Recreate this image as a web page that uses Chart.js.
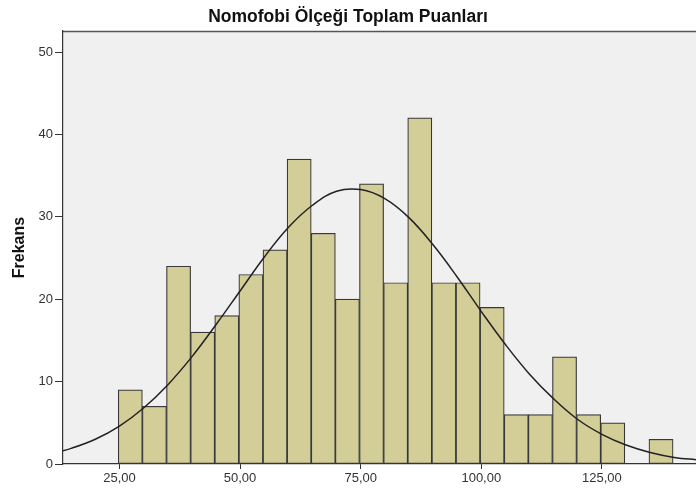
<!DOCTYPE html>
<html>
<head>
<meta charset="utf-8">
<script src="https://cdn.jsdelivr.net/npm/chart.js@4/dist/chart.umd.min.js"></script>
<style>
  html, body { margin: 0; padding: 0; background: #fff; }
  #wrap { width: 696px; height: 490px; }
</style>
</head>
<body>
<div id="wrap"><canvas id="hist"></canvas></div>
<script>
// histogram bins (centre of each 5-point bin) and counts
const binCenters = [27.25, 32.25, 37.25, 42.25, 47.25, 52.25, 57.25, 62.25, 67.25, 72.25, 77.25, 82.25,
  87.25, 92.25, 97.25, 102.25, 107.25, 112.25, 117.25, 122.25, 127.25, 132.25, 137.25];
const binCounts = [9, 7, 24, 16, 18, 23, 26, 37, 28, 20, 34, 22, 42, 22, 22, 19, 6, 6, 13, 6, 5, 0, 3];

// normal curve
const curveX = [10, 15, 20, 25, 30, 35, 40, 45, 50, 55, 60, 65, 70, 75, 80, 85, 90, 95, 100,
  105, 110, 115, 120, 125, 130, 135, 140, 145];
const curveY = [1.1, 1.9, 3.0, 4.6, 6.8, 9.6, 13.0, 16.9, 21.0, 25.1, 28.7, 31.4, 33.1, 33.3, 32.2,
  29.9, 26.6, 22.7, 18.5, 14.5, 10.9, 7.9, 5.4, 3.6, 2.3, 1.4, 0.8, 0.5];

const xTicks = [25, 50, 75, 100, 125];
const yTicks = [0, 10, 20, 30, 40, 50];

const plotBg = {
  id: 'plotBg',
  beforeDraw(chart) {
    const { ctx, chartArea: a } = chart;
    ctx.save();
    ctx.fillStyle = '#f0f0f0';
    ctx.fillRect(a.left, a.top, a.right - a.left, a.bottom - a.top);
    ctx.strokeStyle = '#555';
    ctx.lineWidth = 1.5;
    ctx.beginPath();
    ctx.moveTo(a.left, a.top + 0.5);
    ctx.lineTo(a.right, a.top + 0.5);
    ctx.stroke();
    ctx.restore();
  }
};

new Chart(document.getElementById('hist'), {
  type: 'bar',
  data: {
    datasets: [
      {
        type: 'line',
        data: curveX.map((x, i) => ({ x: x, y: curveY[i] })),
        borderColor: '#222',
        borderWidth: 1.5,
        pointRadius: 0,
        tension: 0.4,
        fill: false,
        order: 0
      },
      {
        data: binCenters.map((x, i) => ({ x: x, y: binCounts[i] })),
        backgroundColor: '#d3ce98',
        borderColor: '#383838',
        borderWidth: 1.2,
        borderSkipped: false,
        barPercentage: 1,
        categoryPercentage: 1,
        order: 1
      }
    ]
  },
  options: {
    responsive: true,
    maintainAspectRatio: false,
    animation: false,
    layout: { padding: 0 },
    plugins: {
      legend: { display: false },
      tooltip: { enabled: false },
      title: {
        display: true,
        text: 'Nomofobi Ölçeği Toplam Puanları',
        color: '#111',
        font: { family: 'Liberation Sans, Arial, sans-serif', size: 17.5, weight: 'bold', lineHeight: 1 },
        padding: { top: 8, bottom: 5.5 }
      }
    },
    scales: {
      x: {
        type: 'linear',
        offset: false,
        min: 13.3,
        max: 144.5,
        afterBuildTicks: (s) => { s.ticks = xTicks.map(v => ({ value: v })); },
        afterFit: (s) => { s.height = 26; },
        grid: { offset: false, drawOnChartArea: false, drawTicks: true, tickLength: 5, tickColor: '#333' },
        border: { display: true, color: '#333', width: 1.2 },
        ticks: {
          padding: 2,
          color: '#333',
          maxRotation: 0,
          font: { family: 'Liberation Sans, Arial, sans-serif', size: 13 },
          callback: (v) => v.toFixed(2).replace('.', ',')
        }
      },
      y: {
        min: 0,
        max: 52.55,
        afterBuildTicks: (s) => { s.ticks = yTicks.map(v => ({ value: v })); },
        afterFit: (s) => { s.width = 63; },
        grid: { drawOnChartArea: false, drawTicks: true, tickLength: 8, tickColor: '#333' },
        border: { display: true, color: '#333', width: 1.2 },
        ticks: {
          padding: 2,
          color: '#333',
          font: { family: 'Liberation Sans, Arial, sans-serif', size: 13 }
        },
        title: {
          display: true,
          text: 'Frekans',
          color: '#111',
          font: { family: 'Liberation Sans, Arial, sans-serif', size: 16, weight: 'bold', lineHeight: 1.2 },
          padding: { top: 10, bottom: 0 }
        }
      }
    }
  },
  plugins: [plotBg]
});
</script>
</body>
</html>
